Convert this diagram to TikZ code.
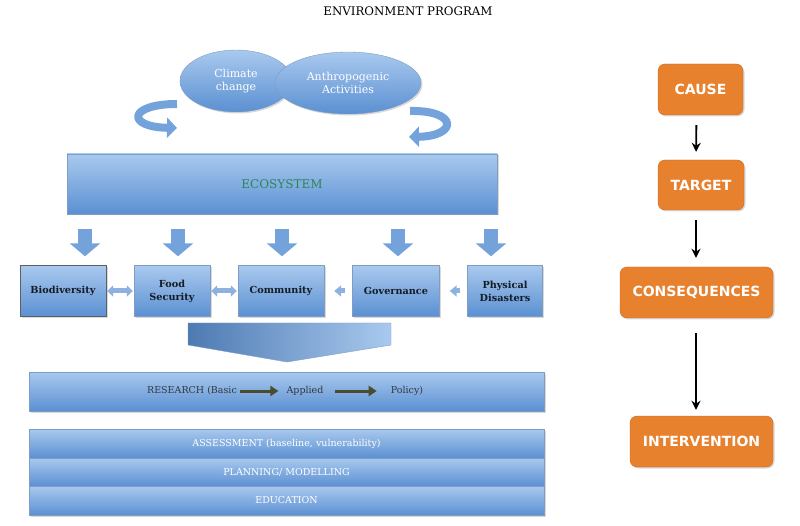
\documentclass[tikz,border=0pt]{standalone}
\usepackage{fontspec}
\setmainfont{DejaVu Serif}
\setsansfont{DejaVu Sans}
\usetikzlibrary{arrows.meta,shadows,shapes.geometric}

\definecolor{bluetop}{HTML}{A9C9EE}
\definecolor{bluebot}{HTML}{5B90D2}
\definecolor{blueedge}{HTML}{7F9DC2}
\definecolor{bluemid}{HTML}{74A3DB}
\definecolor{bluelight}{HTML}{8DB2E0}
\definecolor{ecogreen}{HTML}{2E8558}
\definecolor{rowtext}{HTML}{141C26}
\definecolor{restext}{HTML}{33383F}
\definecolor{orangefill}{HTML}{E8812D}
\definecolor{orangeedge}{HTML}{C8681E}
\definecolor{olivearrow}{HTML}{4B4B2E}

\tikzset{
  bluebox/.style={draw=blueedge, top color=bluetop, bottom color=bluebot,
    inner sep=0pt, align=center,
    drop shadow={opacity=0.3, shadow xshift=1.5pt, shadow yshift=-1.5pt}},
  bluecloud/.style={ellipse, bluebox, text=white, font=\fontsize{11}{13.5}\selectfont},
  rowbox/.style={bluebox, minimum height=51, text=rowtext,
    font=\bfseries\fontsize{9.7}{13}\selectfont},
  barbox/.style={bluebox, minimum width=515, text=white,
    font=\fontsize{9.5}{11}\selectfont},
  restext/.style={inner sep=1pt, text=restext, font=\fontsize{9.5}{11}\selectfont},
  orangebox/.style={draw=orangeedge, fill=orangefill, rounded corners=7pt,
    text=white, font=\sffamily\bfseries\fontsize{14}{16}\selectfont,
    drop shadow={opacity=0.3, shadow xshift=1.5pt, shadow yshift=-1.5pt}},
  downarrow/.style={draw=bluemid, line width=14pt,
    -{Triangle[width=30pt,length=13pt]}},
  dblarrow/.style={draw=bluelight, line width=5pt,
    {Triangle[width=11pt,length=6pt]}-{Triangle[width=11pt,length=6pt]}},
  smallarrow/.style={draw=bluelight, line width=5pt,
    -{Triangle[width=11pt,length=7pt]}},
  curl/.style={draw=bluemid, line width=8pt,
    -{Triangle[width=20pt,length=10pt]}},
  resarrow/.style={draw=olivearrow, line width=3pt,
    -{Triangle[width=10pt,length=8pt]}},
  flow/.style={draw=black, line width=1.8pt,
    -{Stealth[width=9pt,length=9pt]}}
}

\begin{document}
\begin{tikzpicture}[x=1pt,y=-1pt]
  \useasboundingbox (0,0) rectangle (800,526);

  % title
  \node [font=\fontsize{11.8}{13}\selectfont] (title) at (408,11) {ENVIRONMENT PROGRAM};

  % causes
  \node [bluecloud, minimum width=112, minimum height=62] (climate) at (236,81) {Climate\\change};
  \node [bluecloud, minimum width=146, minimum height=62] (anthro) at (348,83) {Anthropogenic\\Activities};

  \draw [curl] (177,104) .. controls (128,104) and (126,127) .. (177,128);
  \draw [curl] (410,111) .. controls (458,110) and (458,136) .. (409,137);

  % ecosystem and its parts
  \node [bluebox, minimum width=430, minimum height=60, text=ecogreen,
         font=\fontsize{12}{14}\selectfont] (eco) at (282,184) {ECOSYSTEM};

  \node [rowbox, minimum width=86, draw=rowtext!70] (bio) at (63,291) {Biodiversity};
  \node [rowbox, minimum width=76] (food) at (172,291) {Food\\Security};
  \node [rowbox, minimum width=86] (comm) at (281,291) {Community};
  \node [rowbox, minimum width=87] (gov) at (396,291) {Governance};
  \node [rowbox, minimum width=75] (phys) at (505,291) {Physical\\Disasters};

  \foreach \b/\dx in {bio/22, food/6, comm/1, gov/2, phys/-14}
    \draw [downarrow] ([xshift=\dx]\b.north) ++(0,-36) -- ++(0,27);

  \draw [dblarrow, shorten <=1pt, shorten >=1pt] (bio) -- (food);
  \draw [dblarrow, shorten <=1pt, shorten >=1pt] (food) -- (comm);
  \draw [smallarrow, shorten <=7pt, shorten >=10pt] (gov) -- (comm);
  \draw [smallarrow, shorten <=7pt, shorten >=10pt] (phys) -- (gov);

  % funnel into research
  \draw [draw=blueedge, left color=bluebot!85!black, right color=bluetop]
    (188,323) -- (391,323) -- (391,345) -- (287,362) -- (188,345) -- cycle;

  \node [barbox, minimum height=39] (research) at (286.5,391.5) {};
  \node [restext] (basic) at (192,391) {RESEARCH (Basic};
  \node [restext] (applied) at (305,391) {Applied};
  \node [restext] (policy) at (407,391) {Policy)};
  \draw [resarrow, shorten <=2pt, shorten >=7pt] (basic) -- (applied);
  \draw [resarrow, shorten <=10pt, shorten >=13pt] (applied) -- (policy);

  \node [barbox, minimum height=29] (assess) at (286.5,443.5) {ASSESSMENT (baseline, vulnerability)};
  \node [barbox, minimum height=28] (plan) at (286.5,472) {PLANNING/ MODELLING};
  \node [barbox, minimum height=29] (edu) at (286.5,500.5) {EDUCATION};

  % right-hand chain
  \node [orangebox, minimum width=85, minimum height=51] (cause) at (700.5,89.5) {CAUSE};
  \node [orangebox, minimum width=86, minimum height=50] (target) at (701,185) {TARGET};
  \node [orangebox, minimum width=153, minimum height=51] (conseq) at (696.5,292.5) {CONSEQUENCES};
  \node [orangebox, minimum width=143, minimum height=51] (interv) at (701.5,441.5) {INTERVENTION};

  \draw [flow, shorten <=10pt, shorten >=8pt] ([xshift=-4pt]cause.south) -- ([xshift=-5pt]target.north);
  \draw [flow, shorten <=10pt, shorten >=9pt] ([xshift=-5pt]target.south) -- ([xshift=-0.5pt]conseq.north);
  \draw [flow, shorten <=15pt, shorten >=6pt] ([xshift=-0.5pt]conseq.south) -- ([xshift=-5.5pt]interv.north);

\end{tikzpicture}
\end{document}
